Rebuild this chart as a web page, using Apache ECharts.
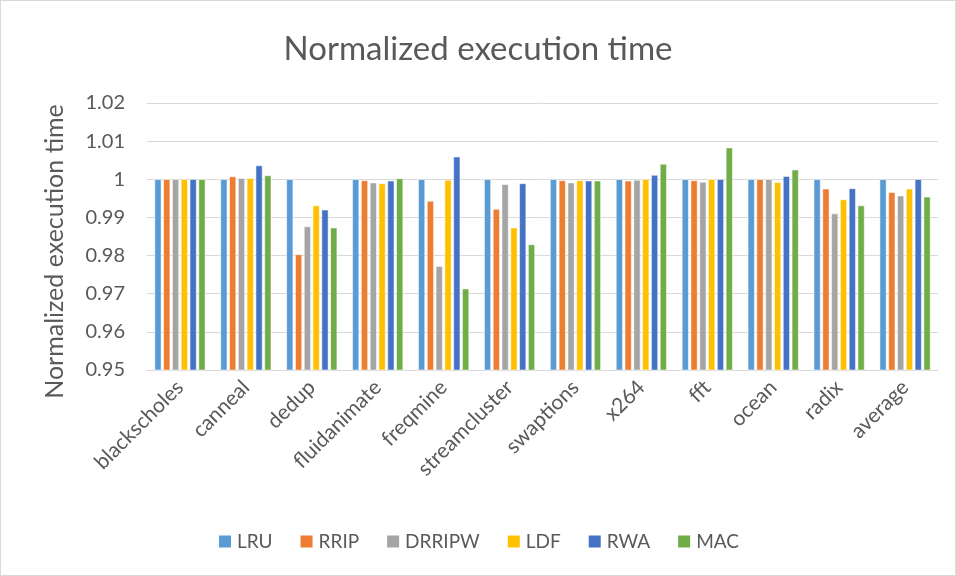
<!DOCTYPE html>
<html><head><meta charset="utf-8">
<script src="https://cdn.jsdelivr.net/npm/echarts@6/dist/echarts.min.js"></script>
<style>html,body{margin:0;padding:0;background:#fff}#c{width:954px;height:574px;border:1px solid #d9d9d9}</style>
</head><body><div id="c"></div>
<script>
const categories = ['blackscholes','canneal','dedup','fluidanimate','freqmine','streamcluster','swaptions','x264','fft','ocean','radix','average'];
const LRU    = [1.0, 1.0,    1.0,    1.0,    1.0,    1.0,    1.0,    1.0,    1.0,    1.0,    1.0,    1.0];
const RRIP   = [1.0, 1.0007, 0.9803, 0.9997, 0.9943, 0.9922, 0.9997, 0.9996, 0.9997, 1.0,    0.9975, 0.9966];
const DRRIPW = [1.0, 1.0003, 0.9876, 0.9991, 0.9772, 0.9987, 0.9991, 0.9998, 0.9993, 1.0,    0.9910, 0.9957];
const LDF    = [1.0, 1.0003, 0.9931, 0.9989, 0.9998, 0.9873, 0.9997, 1.0,    1.0,    0.9992, 0.9947, 0.9975];
const RWA    = [1.0, 1.0036, 0.9920, 0.9996, 1.0059, 0.9989, 0.9996, 1.0011, 1.0,    1.0008, 0.9976, 1.0];
const MAC    = [1.0, 1.0010, 0.9873, 1.0002, 0.9713, 0.9829, 0.9996, 1.0040, 1.0083, 1.0025, 0.9931, 0.9954];
const seriesNames = ['LRU','RRIP','DRRIPW','LDF','RWA','MAC'];
const seriesData = [LRU, RRIP, DRRIPW, LDF, RWA, MAC];
const colors = ['#5b9bd5','#ed7d31','#a5a5a5','#ffc000','#4472c4','#70ad47'];
const yTicks = ['0.95','0.96','0.97','0.98','0.99','1','1.01','1.02'];

const font = 'Lato, "Open Sans", sans-serif';
const chart = echarts.init(document.getElementById('c'));
chart.setOption({
  color: colors,
  animation: false,
  title: {
    text: 'Normalized execution time', left: 'center', top: 27,
    textStyle: {fontFamily: font, fontSize: 33, fontWeight: 'normal', color: '#595959'}
  },
  legend: {
    bottom: 19, left: 'center', itemWidth: 14, itemHeight: 14, itemGap: 26,
    icon: 'rect',
    textStyle: {fontFamily: font, fontSize: 19, color: '#595959'},
    data: seriesNames
  },
  grid: {left: 146, right: 17, top: 102, bottom: 205, containLabel: false},
  xAxis: {
    type: 'category', data: categories,
    axisLine: {lineStyle: {color: '#d9d9d9'}},
    axisTick: {show: false},
    axisLabel: {rotate: 45, fontFamily: font, fontSize: 21, color: '#595959', margin: 14, interval: 0}
  },
  yAxis: {
    type: 'value', min: 0.95, max: 1.02, interval: 0.01,
    name: 'Normalized execution time', nameLocation: 'middle', nameGap: 80,
    nameTextStyle: {fontFamily: font, fontSize: 25, color: '#595959', padding: [0, 30, 0, 0]},
    axisLine: {show: false}, axisTick: {show: false},
    splitLine: {lineStyle: {color: '#d9d9d9', width: 1}},
    axisLabel: {fontFamily: font, fontSize: 20, color: '#595959', margin: 22,
      formatter: v => yTicks[Math.round((v - 0.95) * 100)] }
  },
  series: seriesNames.map((n, i) => ({
    name: n, type: 'bar', data: seriesData[i],
    barGap: '30%', barCategoryGap: '23%',
    itemStyle: {color: colors[i], borderColor: '#fff', borderWidth: 0.5}
  }))
});
</script></body></html>
